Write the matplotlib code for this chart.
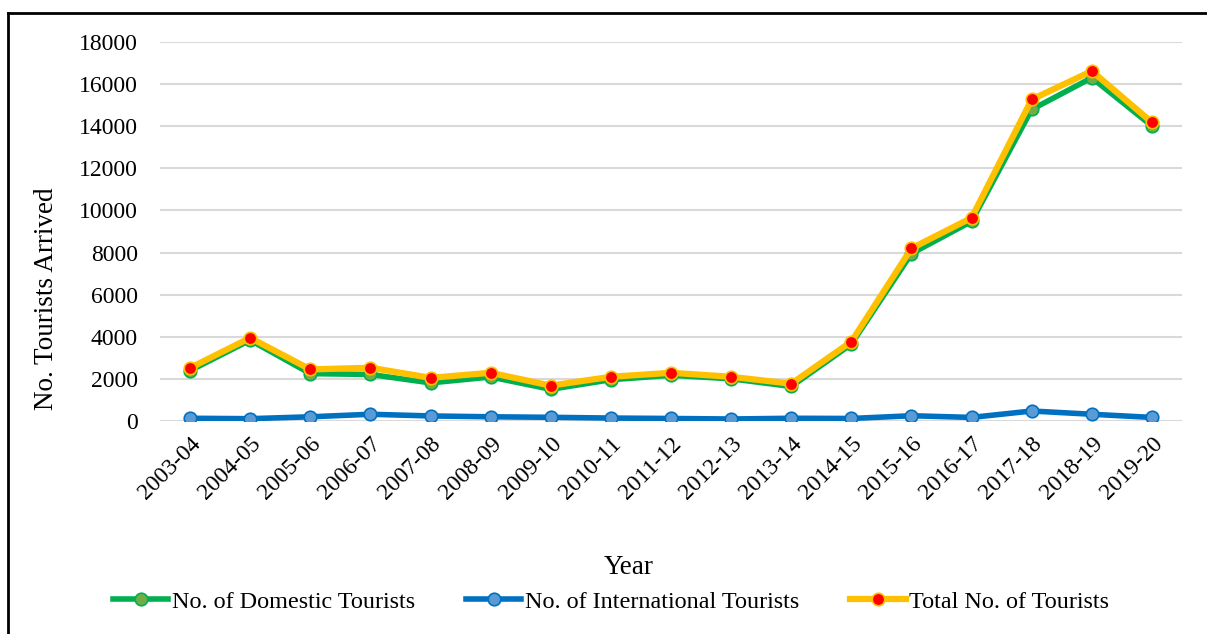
import matplotlib
matplotlib.use("Agg")
import matplotlib.pyplot as plt
from matplotlib.lines import Line2D

plt.rcParams["font.family"] = ["Liberation Serif", "DejaVu Serif"]

years = ["2003-04", "2004-05", "2005-06", "2006-07", "2007-08", "2008-09",
         "2009-10", "2010-11", "2011-12", "2012-13", "2013-14", "2014-15",
         "2015-16", "2016-17", "2017-18", "2018-19", "2019-20"]
domestic = [2390, 3840, 2250, 2210, 1810, 2090, 1505, 1960, 2170, 2005,
            1640, 3650, 7950, 9480, 14795, 16300, 14010]
international = [130, 110, 200, 320, 240, 200, 175, 140, 120, 95,
                 130, 120, 250, 170, 475, 320, 170]
total = [2520, 3950, 2450, 2530, 2050, 2290, 1680, 2100, 2290, 2100,
         1770, 3770, 8200, 9650, 15270, 16620, 14180]

W, H = 1207, 634
fig = plt.figure(figsize=(W / 100, H / 100), dpi=100)
ax = fig.add_axes([160 / W, 1 - 421 / H, (1182 - 160) / W, (421 - 42) / H])

x = list(range(len(years)))
ax.plot(x, domestic, color="#00B050", lw=4.0, marker="o", ms=9,
        mfc="#70AD47", mec="#00B050", mew=1.2, zorder=3,
        label="No. of Domestic Tourists")
ax.plot(x, international, color="#0070C0", lw=4.0, marker="o", ms=9,
        mfc="#5B9BD5", mec="#0070C0", mew=1.2, zorder=3,
        label="No. of International Tourists")
ax.plot(x, total, color="#FFC000", lw=4.5, marker="o", ms=9,
        mfc="#FF0000", mec="#FFC000", mew=1.2, zorder=4,
        label="Total No. of Tourists")

ax.set_xlim(-0.5, len(years) - 0.5)
ax.set_ylim(0, 18000)
ax.set_yticks(range(0, 18001, 2000))
ax.set_xticks(x)
ax.set_xticklabels(years, rotation=45, ha="right", va="top",
                   rotation_mode="anchor")
ax.tick_params(axis="both", length=0, labelsize=17)
ax.tick_params(axis="y", pad=16)
ax.tick_params(axis="x", pad=9)
ax.yaxis.grid(True, color="#D9D9D9", lw=1.5)
ax.set_axisbelow(True)
for s in ax.spines.values():
    s.set_visible(False)

ax.set_ylabel("No. Tourists Arrived", fontsize=19.5)
ax.yaxis.set_label_coords(-(160 - 59) / (1182 - 160), 1 - (299 - 42) / (421 - 42))
fig.text(629 / W, 1 - 567 / H, "Year", fontsize=19.5, ha="center", va="center")

handles, labels = ax.get_legend_handles_labels()
fig.legend(handles, labels, loc="center", bbox_to_anchor=(611 / W, 1 - 602 / H),
           ncol=3, frameon=False, fontsize=17.4, handlelength=2.3,
           handletextpad=0.15, columnspacing=2.1)

# outer frame
fig.add_artist(Line2D([8 / W, 8 / W], [0, 1 - 13 / H], transform=fig.transFigure,
                      color="black", lw=2))
fig.add_artist(Line2D([8 / W, 1], [1 - 13 / H, 1 - 13 / H], transform=fig.transFigure,
                      color="black", lw=2))

fig.savefig("out.png", dpi=100, facecolor="white")
